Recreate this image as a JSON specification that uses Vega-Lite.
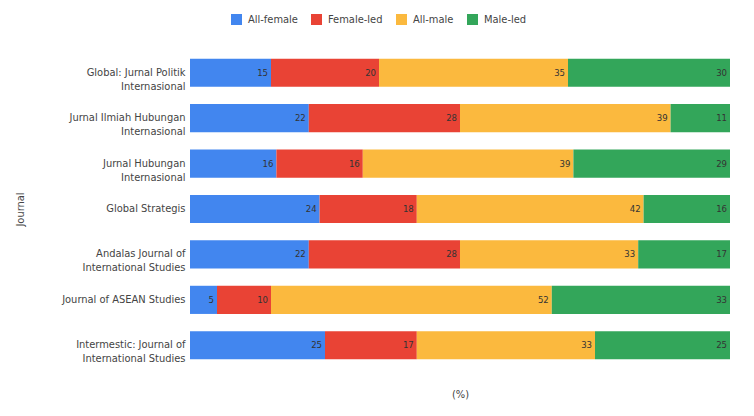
{
  "$schema": "https://vega.github.io/schema/vega-lite/v6.json",
  "width": 540,
  "height": 318,
  "autosize": "none",
  "padding": {"left": 190, "top": 50, "right": 24, "bottom": 48},
  "background": "white",
  "config": {
    "view": {"stroke": null},
    "font": "DejaVu Sans Condensed"
  },
  "data": {
    "values": [
      {"journal": "Global: Jurnal Politik Internasional", "category": "All-female", "pct": 15},
      {"journal": "Global: Jurnal Politik Internasional", "category": "Female-led", "pct": 20},
      {"journal": "Global: Jurnal Politik Internasional", "category": "All-male", "pct": 35},
      {"journal": "Global: Jurnal Politik Internasional", "category": "Male-led", "pct": 30},
      {"journal": "Jurnal Ilmiah Hubungan Internasional", "category": "All-female", "pct": 22},
      {"journal": "Jurnal Ilmiah Hubungan Internasional", "category": "Female-led", "pct": 28},
      {"journal": "Jurnal Ilmiah Hubungan Internasional", "category": "All-male", "pct": 39},
      {"journal": "Jurnal Ilmiah Hubungan Internasional", "category": "Male-led", "pct": 11},
      {"journal": "Jurnal Hubungan Internasional", "category": "All-female", "pct": 16},
      {"journal": "Jurnal Hubungan Internasional", "category": "Female-led", "pct": 16},
      {"journal": "Jurnal Hubungan Internasional", "category": "All-male", "pct": 39},
      {"journal": "Jurnal Hubungan Internasional", "category": "Male-led", "pct": 29},
      {"journal": "Global Strategis", "category": "All-female", "pct": 24},
      {"journal": "Global Strategis", "category": "Female-led", "pct": 18},
      {"journal": "Global Strategis", "category": "All-male", "pct": 42},
      {"journal": "Global Strategis", "category": "Male-led", "pct": 16},
      {"journal": "Andalas Journal of International Studies", "category": "All-female", "pct": 22},
      {"journal": "Andalas Journal of International Studies", "category": "Female-led", "pct": 28},
      {"journal": "Andalas Journal of International Studies", "category": "All-male", "pct": 33},
      {"journal": "Andalas Journal of International Studies", "category": "Male-led", "pct": 17},
      {"journal": "Journal of ASEAN Studies", "category": "All-female", "pct": 5},
      {"journal": "Journal of ASEAN Studies", "category": "Female-led", "pct": 10},
      {"journal": "Journal of ASEAN Studies", "category": "All-male", "pct": 52},
      {"journal": "Journal of ASEAN Studies", "category": "Male-led", "pct": 33},
      {"journal": "Intermestic: Journal of International Studies", "category": "All-female", "pct": 25},
      {"journal": "Intermestic: Journal of International Studies", "category": "Female-led", "pct": 17},
      {"journal": "Intermestic: Journal of International Studies", "category": "All-male", "pct": 33},
      {"journal": "Intermestic: Journal of International Studies", "category": "Male-led", "pct": 25}
    ]
  },
  "transform": [
    {"calculate": "indexof(['All-female','Female-led','All-male','Male-led'], datum.category)", "as": "ord"},
    {"stack": "pct", "groupby": ["journal"], "sort": [{"field": "ord"}], "as": ["x0", "x1"]}
  ],
  "encoding": {
    "y": {
      "field": "journal",
      "type": "nominal",
      "sort": null,
      "title": "Journal",
      "scale": {"paddingInner": 0.38, "paddingOuter": 0.19},
      "axis": {
        "domain": false,
        "ticks": false,
        "labelPadding": 5,
        "labelFontSize": 11,
        "labelColor": "#444",
        "labelLineHeight": 14,
        "labelLimit": 180,
        "labelExpr": "indexof(datum.value, ' Interna') > 0 ? [substring(datum.value, 0, indexof(datum.value, ' Interna')), substring(datum.value, indexof(datum.value, ' Interna') + 1)] : datum.value",
        "titleFontSize": 11,
        "titleFontWeight": "normal",
        "titleColor": "#444",
        "titleX": -165,
        "titleAngle": -90
      }
    }
  },
  "layer": [
    {
      "mark": {"type": "bar"},
      "encoding": {
        "x": {
          "field": "x0",
          "type": "quantitative",
          "scale": {"domain": [0, 100], "nice": false},
          "title": "(%)",
          "axis": {
            "labels": false,
            "ticks": false,
            "domain": false,
            "grid": false,
            "titleFontSize": 11,
            "titleFontWeight": "normal",
            "titleColor": "#444",
            "titleY": 20
          }
        },
        "x2": {"field": "x1"},
        "color": {
          "field": "category",
          "type": "nominal",
          "sort": ["All-female", "Female-led", "All-male", "Male-led"],
          "scale": {
            "domain": ["All-female", "Female-led", "All-male", "Male-led"],
            "range": ["#4286EF", "#E94335", "#FBB93E", "#33A65A"]
          },
          "legend": {
            "title": null,
            "orient": "none",
            "direction": "horizontal",
            "legendX": 41,
            "legendY": -36,
            "symbolType": "square",
            "symbolSize": 121,
            "symbolStrokeWidth": 0,
            "symbolOpacity": 1,
            "labelFontSize": 11,
            "labelColor": "#444",
            "labelOffset": 6,
            "columnPadding": 13
          }
        }
      }
    },
    {
      "mark": {"type": "text", "align": "right", "baseline": "middle", "dx": -3, "fontSize": 9.5, "color": "#333"},
      "encoding": {
        "x": {"field": "x1", "type": "quantitative"},
        "text": {"field": "pct", "type": "quantitative"}
      }
    }
  ]
}
